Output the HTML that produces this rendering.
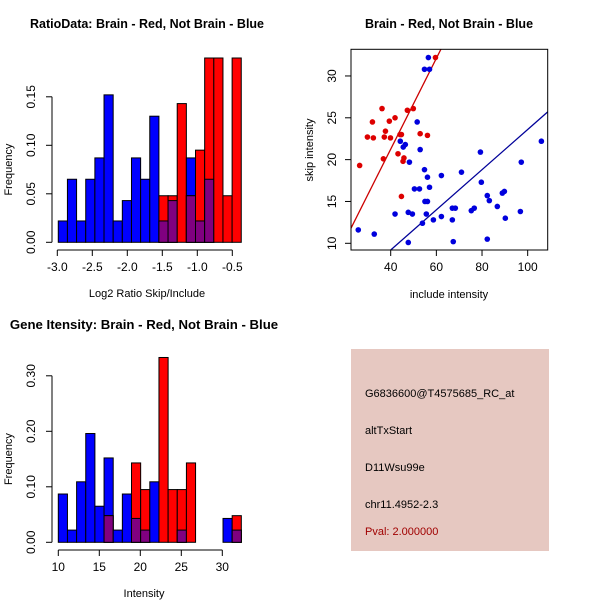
<!DOCTYPE html>
<html><head><meta charset="utf-8"><style>
html,body{margin:0;padding:0;background:#fff;}
svg{display:block;font-family:"Liberation Sans",sans-serif;}
</style></head><body>
<svg id="chart" width="600" height="600" viewBox="0 0 600 600">
<rect x="0" y="0" width="600" height="600" fill="#fff"/>
<g id="p1"></g>
<g id="p2"></g>
<g id="p3"></g>
<g>
<rect x="351" y="349" width="198" height="202" fill="#e6c8c1"/>
<text x="365" y="397" font-size="11" fill="#000">G6836600@T4575685_RC_at</text>
<text x="365" y="434" font-size="11" fill="#000">altTxStart</text>
<text x="365" y="471" font-size="11" fill="#000">D11Wsu99e</text>
<text x="365" y="508" font-size="11" fill="#000">chr11.4952-2.3</text>
<text x="365" y="535" font-size="11" fill="#a00000">Pval: 2.000000</text>
</g>
</svg>
<script>
// Panel 1 data
const ratioStart = -2.986, ratioBinWidth = 0.1307;
const ratioBlue = [0.022,0.065,0.022,0.065,0.087,0.152,0.022,0.043,0.087,0.065,0.130,0.022,0.043,0,0.087,0.022,0.065,0,0,0];
const ratioRed  = [0,0,0,0,0,0,0,0,0,0,0,0.048,0.048,0.143,0.048,0.095,0.190,0.190,0.048,0.190];
const ratioXTicks = [-3.0,-2.5,-2.0,-1.5,-1.0,-0.5];
const ratioYTicks = [0,0.05,0.10,0.15];
const ratioYLabels = ["0.00","0.05","0.10","0.15"];
const ratioXLabels = ["-3.0","-2.5","-2.0","-1.5","-1.0","-0.5"];
// Panel 3 data
const intStart = 10.0, intBinWidth = 1.116;
const intBlue = [0.087,0.022,0.109,0.196,0.065,0.152,0.022,0.087,0.043,0.022,0.109,0,0,0.022,0,0,0,0,0.043,0.022];
const intRed  = [0,0,0,0,0,0.048,0,0,0.143,0.095,0,0.333,0.095,0.095,0.143,0,0,0,0,0.048];
const intXTicks = [10,15,20,25,30];
const intYTicks = [0,0.1,0.2,0.3];
const intYLabels = ["0.00","0.10","0.20","0.30"];
// Panel 2 data
const redX = [26.4,29.8,32.4,32.0,36.2,37.2,37.7,36.8,39.4,39.9,41.9,43.2,44.1,44.7,45.8,45.4,44.7,47.3,49.9,52.9,56.1,59.6];
const redY = [19.3,22.7,22.6,24.5,26.1,22.7,23.4,20.1,24.6,22.6,25.0,20.7,23.0,23.0,20.2,19.8,15.6,25.9,26.1,23.1,22.9,32.2];
const blueX = [25.8,32.8,47.7,41.9,47.7,49.5,53.9,55.6,58.7,62.2,67.0,68.3,67.0,67.4,50.4,52.6,55.0,56.1,57.0,56.1,54.8,62.2,71.0,48.2,52.9,44.2,45.5,46.4,51.6,54.8,57.0,56.5,79.3,79.7,75.3,76.6,82.3,83.2,86.7,88.9,89.8,90.2,82.3,96.8,97.2,106.0];
const blueY = [11.6,11.1,10.1,13.5,13.7,13.5,12.4,13.5,12.8,13.2,14.2,14.2,12.8,10.2,16.5,16.5,15.0,15.0,16.7,17.9,18.8,18.1,18.5,19.7,21.2,22.2,21.5,21.8,24.5,30.8,30.8,32.2,20.9,17.3,13.9,14.2,15.7,15.1,14.4,16.0,16.2,13.0,10.5,13.8,19.7,22.2];
const redLine = [-0.47, 0.543];   // intercept, slope
const blueLine = [-0.4, 0.24];
const scXTicks = [40,60,80,100];
const scYTicks = [10,15,20,25,30];

const NS = "http://www.w3.org/2000/svg";
function mk(parent, tag, attrs, name){
  const el = document.createElementNS(NS, tag);
  for (const k in attrs) el.setAttribute(k, attrs[k]);
  
  
  parent.appendChild(el);
  return el;
}
function txt(parent, x, y, s, size, name, opts){
  const el = mk(parent, 'text', Object.assign({x:x, y:y, 'font-size':size, 'text-anchor':'middle', fill:'#000'}, opts||{}), name);
  el.textContent = s;
  return el;
}

function histogram(g, cfg){
  const sx = v => cfg.x0px + (v - cfg.x0) * cfg.xs;
  const sy = v => cfg.y0px - v * cfg.ys;
  for (let i = 0; i < cfg.blue.length; i++){
    const a = cfg.start + i*cfg.bw, b = a + cfg.bw;
    const x = sx(a), w = sx(b) - sx(a);
    const bl = cfg.blue[i], rd = cfg.red[i];
    if (bl > 0) mk(g,'rect',{x:x,y:sy(bl),width:w,height:sy(0)-sy(bl),fill:'#0000ff',stroke:'#000','stroke-width':1},'bar-blue-'+i);
    if (rd > 0) mk(g,'rect',{x:x,y:sy(rd),width:w,height:sy(0)-sy(rd),fill:'#ff0000',stroke:'#000','stroke-width':1},'bar-red-'+i);
    const m = Math.min(bl, rd);
    if (m > 0) mk(g,'rect',{x:x,y:sy(m),width:w,height:sy(0)-sy(m),fill:'#800080',stroke:'#000','stroke-width':1},'bar-overlap-'+i);
  }
  const yt = cfg.yticks;
  mk(g,'line',{x1:cfg.yAxisX,x2:cfg.yAxisX,y1:sy(yt[0]),y2:sy(yt[yt.length-1]),stroke:'#000'},'y-axis-line');
  yt.forEach((v,i)=>{
    mk(g,'line',{x1:cfg.yAxisX-6,x2:cfg.yAxisX,y1:sy(v),y2:sy(v),stroke:'#000'},'y-tick');
    txt(g, cfg.yAxisX-17, sy(v), cfg.ylabels[i], 12, 'y-tick-label', {transform:`rotate(-90 ${cfg.yAxisX-17} ${sy(v)})`});
  });
  const xt = cfg.xticks;
  mk(g,'line',{x1:sx(xt[0]),x2:sx(xt[xt.length-1]),y1:cfg.xAxisY,y2:cfg.xAxisY,stroke:'#000'},'x-axis-line');
  xt.forEach((v,i)=>{
    mk(g,'line',{x1:sx(v),x2:sx(v),y1:cfg.xAxisY,y2:cfg.xAxisY+6,stroke:'#000'},'x-tick');
    txt(g, sx(v), cfg.xAxisY+21, cfg.xlabels[i], 12, 'x-tick-label');
  });
  txt(g, cfg.titleX, cfg.titleY, cfg.title, cfg.titleSize, 'plot-title', {'font-weight':'bold'});
  txt(g, cfg.titleX, cfg.xAxisY+47, cfg.xtitle, 11, 'x-axis-title');
  const my = (sy(0)+sy(cfg.ymax))/2;
  txt(g, 12, my, 'Frequency', 11, 'y-axis-title', {transform:`rotate(-90 12 ${my})`});
}

histogram(document.getElementById('p1'), {
  start: ratioStart, bw: ratioBinWidth, blue: ratioBlue, red: ratioRed,
  x0: -3.0, x0px: 57.3, xs: 70.0, y0px: 242.3, ys: 970,
  yticks: ratioYTicks, ylabels: ratioYLabels, xticks: ratioXTicks, xlabels: ratioXLabels,
  yAxisX: 52, xAxisY: 250, ymax: 0.15,
  title: 'RatioData: Brain - Red, Not Brain - Blue', titleX: 147, titleY: 28, titleSize: 12.5,
  xtitle: 'Log2 Ratio Skip/Include'
});
histogram(document.getElementById('p3'), {
  start: intStart, bw: intBinWidth, blue: intBlue, red: intRed,
  x0: 10, x0px: 58.3, xs: 8.2, y0px: 542.3, ys: 555,
  yticks: intYTicks, ylabels: intYLabels, xticks: intXTicks, xlabels: intXTicks.map(String),
  yAxisX: 52, xAxisY: 550, ymax: 0.3,
  title: 'Gene Itensity: Brain - Red, Not Brain - Blue', titleX: 144, titleY: 329, titleSize: 13.2,
  xtitle: 'Intensity'
});

(function(){
  const g = document.getElementById('p2');
  const L = 351, R = 547.7, T = 49.3, B = 250;
  const sx = v => 390.7 + (v - 40) * 2.283;
  const sy = v => 243.3 - (v - 10) * 8.367;
  const defs = mk(g,'clipPath',{id:'clip'},'plot-clip');
  mk(defs,'rect',{x:L,y:T,width:R-L,height:B-T},'clip-rect');
  const ix = v => 40 + (v - 390.7)/2.283;
  const x1 = ix(L), x2 = ix(R);
  mk(g,'line',{x1:sx(x1),y1:sy(redLine[0]+redLine[1]*x1),x2:sx(x2),y2:sy(redLine[0]+redLine[1]*x2),stroke:'#cc0000','stroke-width':1.3,'clip-path':'url(#clip)'},'red-regression-line');
  mk(g,'line',{x1:sx(x1),y1:sy(blueLine[0]+blueLine[1]*x1),x2:sx(x2),y2:sy(blueLine[0]+blueLine[1]*x2),stroke:'#000099','stroke-width':1.3,'clip-path':'url(#clip)'},'blue-regression-line');
  for (let i=0;i<redX.length;i++) mk(g,'circle',{cx:sx(redX[i]),cy:sy(redY[i]),r:2.8,fill:'#dd0000'},'red-point');
  for (let i=0;i<blueX.length;i++) mk(g,'circle',{cx:sx(blueX[i]),cy:sy(blueY[i]),r:2.8,fill:'#0000dd'},'blue-point');
  mk(g,'rect',{x:L,y:T,width:R-L,height:B-T,fill:'none',stroke:'#000'},'plot-frame');
  scXTicks.forEach(v=>{
    mk(g,'line',{x1:sx(v),x2:sx(v),y1:B,y2:B+6,stroke:'#000'},'x-tick');
    txt(g, sx(v), B+21, String(v), 12, 'x-tick-label');
  });
  scYTicks.forEach(v=>{
    mk(g,'line',{x1:L-6,x2:L,y1:sy(v),y2:sy(v),stroke:'#000'},'y-tick');
    txt(g, L-15, sy(v), String(v), 12, 'y-tick-label', {transform:`rotate(-90 ${L-15} ${sy(v)})`});
  });
  txt(g, 449, 28, 'Brain - Red, Not Brain - Blue', 12.5, 'plot-title', {'font-weight':'bold'});
  txt(g, 449, 298, 'include intensity', 11, 'x-axis-title');
  txt(g, 313, 150, 'skip intensity', 11, 'y-axis-title', {transform:'rotate(-90 313 150)'});
})();
</script>
</body></html>
